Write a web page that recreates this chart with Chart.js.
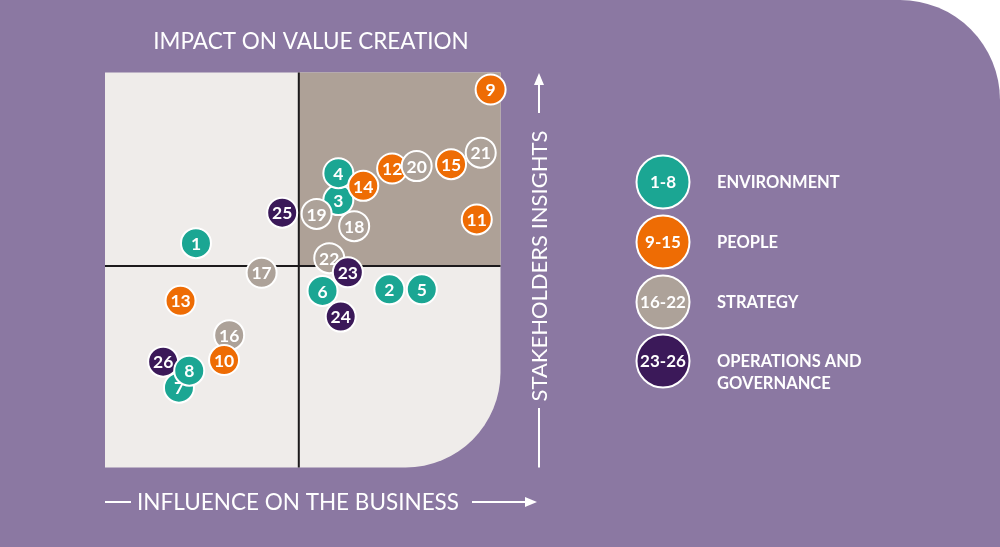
<!DOCTYPE html>
<html>
<head>
<meta charset="utf-8">
<title>Materiality matrix</title>
<script src="https://cdn.jsdelivr.net/npm/chart.js@4.4.1/dist/chart.umd.min.js"></script>
<style>
  html, body { margin: 0; padding: 0; background: #fff; }
  #wrap { width: 1000px; height: 547px; background: #8b78a2; border-top-right-radius: 100px; overflow: hidden; }
  canvas { display: block; }
</style>
</head>
<body>
<div id="wrap"><canvas id="matrix" width="1000" height="547"></canvas></div>
<script>
// Topic numbers and where each one sits on the matrix (both axes 0-100)
const topics    = [1, 2, 3, 4, 5, 6, 7, 8, 9, 10, 11, 12, 13, 14, 15, 16, 17, 18, 19, 20, 21, 22, 23, 24, 25, 26];
const influence = [23.0, 71.9, 59.0, 59.0, 80.1, 55.0, 18.7, 21.3, 97.5, 30.1, 94.0, 72.6, 19.1, 65.3, 87.5, 31.4, 39.6, 63.0, 53.5, 78.8, 95.0, 56.7, 61.4, 59.6, 44.8, 14.7];
const impact    = [56.8, 45.1, 67.7, 74.5, 45.1, 44.7, 20.2, 24.5, 95.7, 27.2, 62.8, 75.7, 42.2, 71.3, 76.8, 33.5, 49.3, 61.1, 64.2, 76.3, 79.7, 53.0, 49.4, 38.2, 64.5, 26.8];
const topicGroup = [0, 0, 0, 0, 0, 0, 0, 0, 1, 1, 1, 1, 1, 1, 1, 2, 2, 2, 2, 2, 2, 2, 3, 3, 3, 3];

// which bubble goes on top of which (first = bottom)
const drawOrder = [7, 26, 8, 16, 10, 13, 1, 17, 6, 22, 23, 24, 2, 5, 3, 4, 14, 19, 18, 25, 12, 20, 21, 15, 11, 9];

// Groups for the legend
const groupRanges = ["1-8", "9-15", "16-22", "23-26"];
const groupNames  = [["ENVIRONMENT"], ["PEOPLE"], ["STRATEGY"], ["OPERATIONS AND", "GOVERNANCE"]];
const groupColors = ["#1ba693", "#ee6c04", "#ada299", "#3b1959"];

// Quadrant split
const splitX = 49;
const splitY = 51;

const FONT = "Lato, 'Open Sans', sans-serif";

// Quadrant background + cross lines, under the bubbles
const quadrants = {
  id: "quadrants",
  beforeDatasetsDraw(chart) {
    const ctx = chart.ctx;
    const xs = chart.scales.x, ys = chart.scales.y;
    const l = xs.getPixelForValue(0), r = xs.getPixelForValue(100);
    const t = ys.getPixelForValue(100), b = ys.getPixelForValue(0);
    const mx = xs.getPixelForValue(splitX), my = ys.getPixelForValue(splitY);
    const rad = 95;
    ctx.save();
    ctx.beginPath();
    ctx.moveTo(l, t);
    ctx.lineTo(r, t);
    ctx.lineTo(r, b - rad);
    ctx.arcTo(r, b, r - rad, b, rad);
    ctx.lineTo(l, b);
    ctx.closePath();
    ctx.fillStyle = "#efecea";
    ctx.fill();
    ctx.fillStyle = "#aea197";
    ctx.fillRect(mx, t, r - mx, my - t);
    ctx.strokeStyle = "#1c1a1c";
    ctx.lineWidth = 2;
    ctx.beginPath();
    ctx.moveTo(mx, t); ctx.lineTo(mx, b);
    ctx.moveTo(l, my); ctx.lineTo(r, my);
    ctx.stroke();
    ctx.restore();
  }
};

// Number inside each bubble, drawn right after that bubble so overlaps look right
const bubbleLabels = {
  id: "bubbleLabels",
  afterDatasetDraw(chart, args) {
    const pt = args.meta.data[0];
    if (!pt) return;
    const ctx = chart.ctx;
    ctx.save();
    ctx.fillStyle = "#fff";
    ctx.font = "bold 17.5px " + FONT;
    ctx.textAlign = "center";
    ctx.textBaseline = "middle";
    ctx.fillText(chart.data.datasets[args.index].label, pt.x, pt.y + 1);
    ctx.restore();
  }
};

function arrowHead(ctx, x, y, dir) {
  // dir: "right" or "up"
  ctx.beginPath();
  if (dir === "right") {
    ctx.moveTo(x, y); ctx.lineTo(x - 12, y - 5); ctx.lineTo(x - 12, y + 5);
  } else {
    ctx.moveTo(x, y); ctx.lineTo(x - 5, y + 12); ctx.lineTo(x + 5, y + 12);
  }
  ctx.closePath();
  ctx.fill();
}

// Titles, axis arrows and legend
const decorations = {
  id: "decorations",
  afterDraw(chart) {
    const ctx = chart.ctx;
    const area = chart.chartArea;
    ctx.save();
    ctx.fillStyle = "#fff";
    ctx.strokeStyle = "#fff";
    ctx.lineWidth = 2;
    ctx.textBaseline = "middle";

    // top title
    ctx.font = "22.5px " + FONT;
    ctx.textAlign = "center";
    ctx.fillText("IMPACT ON VALUE CREATION", 311, 42);

    // x axis title with lines
    ctx.textAlign = "left";
    ctx.fillText("INFLUENCE ON THE BUSINESS", 137, 503);
    ctx.beginPath();
    ctx.moveTo(area.left, 502); ctx.lineTo(131, 502);
    ctx.moveTo(472, 502); ctx.lineTo(528, 502);
    ctx.stroke();
    arrowHead(ctx, 537, 502, "right");

    // y axis title (rotated), on the right side
    ctx.save();
    ctx.translate(539, 266);
    ctx.rotate(-Math.PI / 2);
    ctx.textAlign = "center";
    ctx.font = "22px " + FONT;
    ctx.fillText("STAKEHOLDERS INSIGHTS", 0, 1);
    ctx.restore();
    ctx.beginPath();
    ctx.moveTo(539, 408); ctx.lineTo(539, area.bottom);
    ctx.moveTo(539, 113); ctx.lineTo(539, 82);
    ctx.stroke();
    arrowHead(ctx, 539, 73, "up");

    // legend
    const legendY = [182, 242, 302, 361];
    groupRanges.forEach((rng, i) => {
      const cy = legendY[i];
      ctx.beginPath();
      ctx.arc(663, cy, 26.5, 0, Math.PI * 2);
      ctx.fillStyle = groupColors[i];
      ctx.fill();
      ctx.lineWidth = 2;
      ctx.strokeStyle = "#fff";
      ctx.stroke();
      ctx.fillStyle = "#fff";
      ctx.font = "bold 17px " + FONT;
      ctx.textAlign = "center";
      ctx.fillText(rng, 663, cy + 1);
      ctx.textAlign = "left";
      ctx.font = "bold 16.5px " + FONT;
      groupNames[i].forEach((line, j) => ctx.fillText(line, 717, cy + 1 + j * 22));
    });
    ctx.restore();
  }
};

// one dataset per topic so every bubble keeps its own stacking place
const datasets = drawOrder.map((num, i) => {
  const k = topics.indexOf(num);
  return {
    label: String(num),
    data: [{ x: influence[k], y: impact[k] }],
    backgroundColor: groupColors[topicGroup[k]],
    borderColor: "#fff",
    borderWidth: 2,
    pointRadius: 15,
    pointHoverRadius: 15,
    clip: false,
    order: drawOrder.length - i
  };
});

new Chart(document.getElementById("matrix"), {
  type: "scatter",
  data: { datasets: datasets },
  options: {
    responsive: false,
    animation: false,
    layout: { padding: { left: 105, top: 72.5, right: 499.5, bottom: 79.5 } },
    scales: {
      x: { min: 0, max: 100, display: false },
      y: { min: 0, max: 100, display: false }
    },
    plugins: {
      legend: { display: false },
      tooltip: { enabled: false }
    }
  },
  plugins: [quadrants, bubbleLabels, decorations]
});
</script>
</body>
</html>
